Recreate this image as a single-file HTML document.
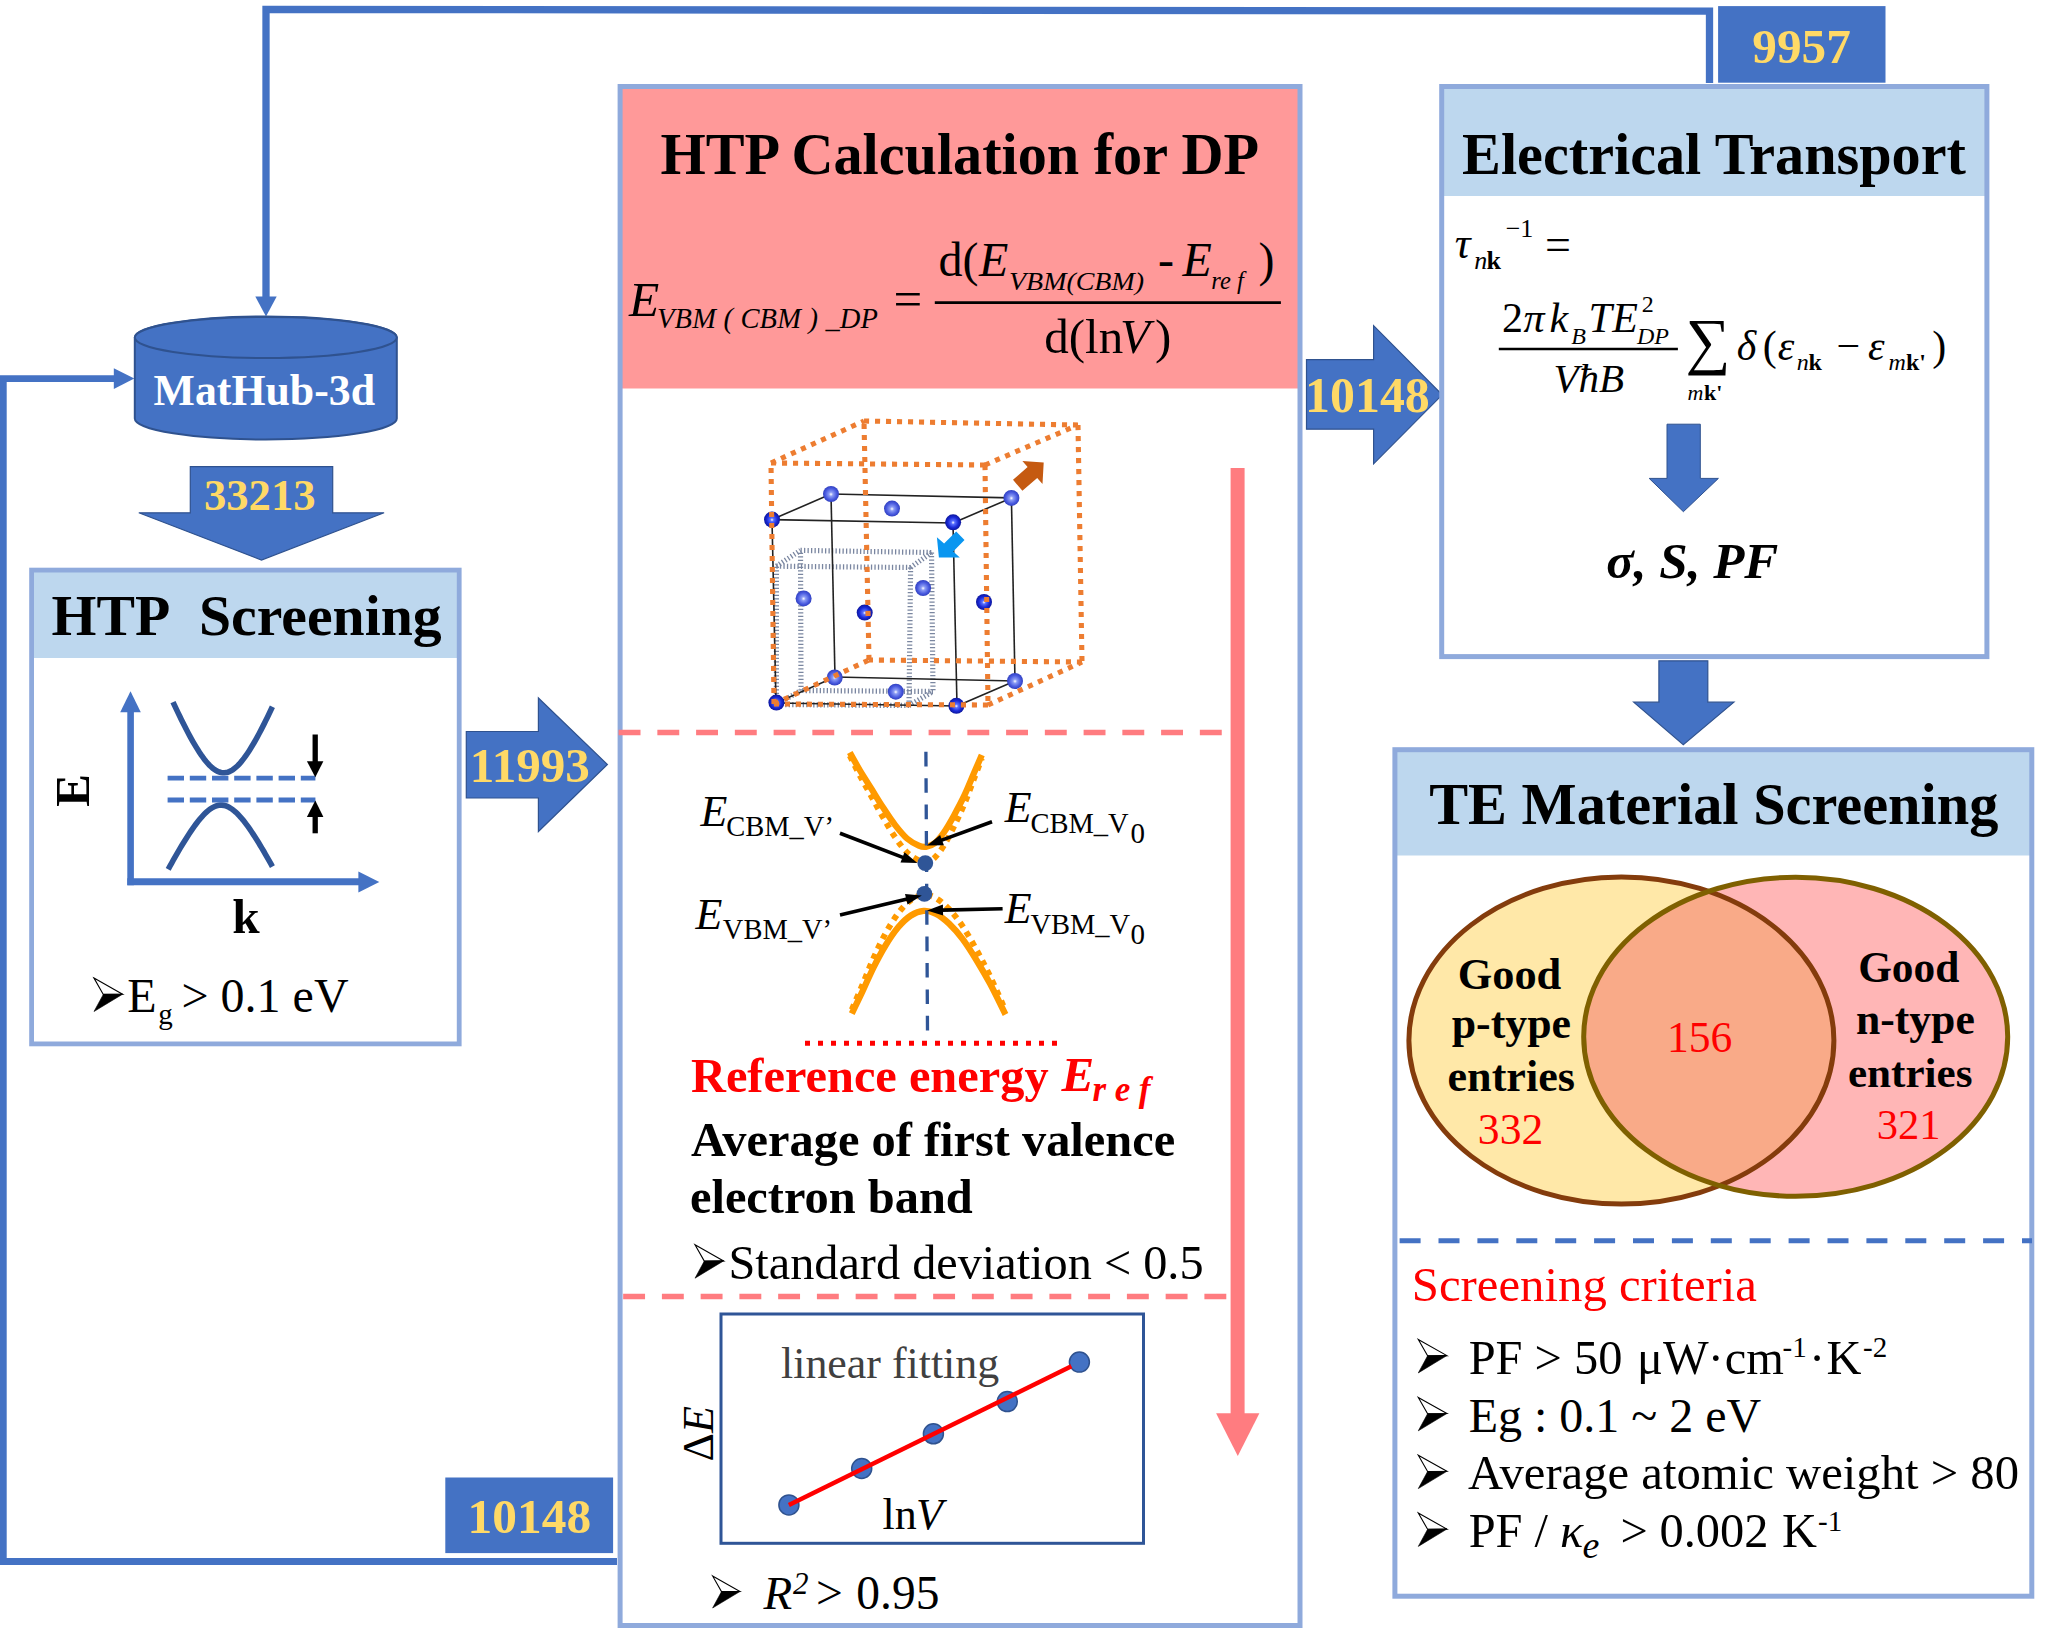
<!DOCTYPE html><html><head><meta charset="utf-8"><style>
html,body{margin:0;padding:0;background:#fff;}
svg{display:block;}
text{font-family:"Liberation Serif",serif;}
</style></head><body>
<svg width="2048" height="1650" viewBox="0 0 2048 1650">
<defs>
<radialGradient id="atomL" cx="0.5" cy="0.5" r="0.5" fx="0.5" fy="0.52">
<stop offset="0" stop-color="#ffffff"/><stop offset="0.25" stop-color="#8c9cf4"/><stop offset="0.7" stop-color="#4a5be0"/><stop offset="1" stop-color="#3040c0"/></radialGradient>
<radialGradient id="atomD" cx="0.5" cy="0.5" r="0.5" fx="0.5" fy="0.52">
<stop offset="0" stop-color="#ffffff"/><stop offset="0.22" stop-color="#5a70ff"/><stop offset="0.65" stop-color="#1a2ad8"/><stop offset="1" stop-color="#0c169c"/></radialGradient>
</defs>
<rect width="2048" height="1650" fill="#fff"/>

<polyline points="266,297 266,9.4 1709.5,11.2 1709.5,83" fill="none" stroke="#4472C4" stroke-width="7.3" stroke-linejoin="miter"/>
<polygon points="255.3,296.4 276.7,296.4 266.0,316.6" fill="#4472C4" stroke="none" stroke-width="0" />
<polyline points="617,1561.5 3.3,1561.5 3.3,378.6 115,378.6" fill="none" stroke="#4472C4" stroke-width="6.8"/>
<polygon points="113.8,368.2 113.8,388.9 134.3,378.5" fill="#4472C4" stroke="none" stroke-width="0" />
<path d="M134.8,337.5 L134.8,418.5 A131,21 0 0 0 396.8,418.5 L396.8,337.5 A131,21 0 0 0 134.8,337.5 Z" fill="#4472C4" stroke="#2F528F" stroke-width="2"/>
<ellipse cx="265.8" cy="337.5" rx="131" ry="20.5" fill="#4472C4" stroke="#2F528F" stroke-width="2"/>
<text x="153.60" y="404.50" font-size="43.80" font-weight="bold" font-style="normal" fill="#fff" >MatHub-3d</text>
<polygon points="190.3,466.6 332.7,466.6 332.7,512.8 384.1,512.8 261.5,560.0 138.8,512.8 190.3,512.8" fill="#4472C4" stroke="#2F528F" stroke-width="1.2" />
<text x="203.91" y="509.70" font-size="44.68" font-weight="bold" font-style="normal" fill="#FFD966" >33213</text>
<rect x="33" y="572" width="424.5" height="86" fill="#BDD7EE"/>
<rect x="31.599999999999998" y="570.1" width="427.6" height="473.7999999999999" fill="none" stroke="#8FAADC" stroke-width="4.8"/>
<text x="51.49" y="635.40" font-size="57.73" font-weight="bold" font-style="normal" fill="#000" >HTP&#160;&#160;Screening</text>
<line x1="130.6" y1="712" x2="130.6" y2="885.3" stroke="#4472C4" stroke-width="6.6" />
<polygon points="120.2,712.3 140.8,712.3 130.5,691.3" fill="#4472C4" stroke="none" stroke-width="0" />
<line x1="127.3" y1="881.8" x2="359" y2="881.8" stroke="#4472C4" stroke-width="7" />
<polygon points="358.4,871.4 358.4,892.4 379.3,881.9" fill="#4472C4" stroke="none" stroke-width="0" />
<path d="M173.00,702.09 L174.66,705.64 L176.31,709.16 L177.97,712.64 L179.63,716.07 L181.28,719.46 L182.94,722.80 L184.60,726.08 L186.25,729.31 L187.91,732.47 L189.57,735.57 L191.22,738.59 L192.88,741.54 L194.54,744.40 L196.19,747.17 L197.85,749.84 L199.51,752.41 L201.16,754.87 L202.82,757.21 L204.48,759.42 L206.13,761.49 L207.79,763.41 L209.45,765.18 L211.10,766.78 L212.76,768.21 L214.42,769.46 L216.07,770.52 L217.73,771.39 L219.39,772.05 L221.04,772.51 L222.70,772.75 L224.36,772.79 L226.01,772.61 L227.67,772.22 L229.33,771.63 L230.98,770.83 L232.64,769.83 L234.30,768.64 L235.95,767.27 L237.61,765.72 L239.27,764.01 L240.92,762.14 L242.58,760.11 L244.24,757.95 L245.89,755.65 L247.55,753.23 L249.21,750.70 L250.86,748.06 L252.52,745.32 L254.18,742.48 L255.83,739.57 L257.49,736.57 L259.15,733.49 L260.80,730.35 L262.46,727.15 L264.12,723.88 L265.77,720.56 L267.43,717.19 L269.09,713.77 L270.74,710.31 L272.40,706.80" fill="none" stroke="#2F5597" stroke-width="5.6"/>
<path d="M168.20,869.29 L169.94,866.15 L171.67,863.03 L173.41,859.94 L175.15,856.89 L176.88,853.87 L178.62,850.89 L180.36,847.94 L182.09,845.05 L183.83,842.20 L185.57,839.40 L187.30,836.66 L189.04,833.99 L190.78,831.38 L192.51,828.84 L194.25,826.39 L195.99,824.02 L197.72,821.75 L199.46,819.58 L201.20,817.52 L202.93,815.59 L204.67,813.79 L206.41,812.13 L208.14,810.62 L209.88,809.28 L211.62,808.11 L213.35,807.12 L215.09,806.32 L216.83,805.71 L218.56,805.31 L220.30,805.12 L222.04,805.13 L223.77,805.36 L225.51,805.78 L227.25,806.42 L228.98,807.24 L230.72,808.26 L232.46,809.45 L234.19,810.82 L235.93,812.35 L237.67,814.03 L239.40,815.85 L241.14,817.80 L242.88,819.87 L244.61,822.05 L246.35,824.34 L248.09,826.72 L249.82,829.18 L251.56,831.73 L253.30,834.35 L255.03,837.03 L256.77,839.78 L258.51,842.58 L260.24,845.44 L261.98,848.34 L263.72,851.29 L265.45,854.28 L267.19,857.30 L268.93,860.36 L270.66,863.45 L272.40,866.58" fill="none" stroke="#2F5597" stroke-width="5.6"/>
<line x1="167.6" y1="778.1" x2="315.4" y2="778.1" stroke="#4472C4" stroke-width="4.9" stroke-dasharray="16.4 5.8"/>
<line x1="167.6" y1="800" x2="315.4" y2="800" stroke="#4472C4" stroke-width="4.9" stroke-dasharray="16.4 5.8"/>
<line x1="315.2" y1="734.5" x2="315.2" y2="762" stroke="#000" stroke-width="5.3" />
<polygon points="306.9,761.2 323.4,761.2 315.3,777.2" fill="#000" stroke="none" stroke-width="0" />
<line x1="315.2" y1="816" x2="315.2" y2="833.3" stroke="#000" stroke-width="5.3" />
<polygon points="306.9,816.9 323.4,816.9 315.3,800.6" fill="#000" stroke="none" stroke-width="0" />
<text x="89.5" y="790.8" font-size="49" font-weight="bold" font-style="normal" fill="#000" transform="rotate(-90 89 790.8)" text-anchor="middle">E</text>
<text x="232.22" y="933.20" font-size="49.31" font-weight="bold" font-style="normal" fill="#000" >k</text>
<polygon points="94.0,978.1 122.6,994.2 103.3,994.4" fill="#fff" stroke="#000" stroke-width="1.10" stroke-linejoin="miter"/>
<polygon points="103.3,994.4 122.6,994.2 94.0,1011.5" fill="#000" stroke="#000" stroke-width="0.60"/>
<text x="127.3" y="1012.3" font-size="48" font-weight="normal" font-style="normal" fill="#000" >E</text>
<text x="158.3" y="1023.5" font-size="29" font-weight="normal" font-style="normal" fill="#000" >g</text>
<text x="181.5" y="1012.3" font-size="48" font-weight="normal" font-style="normal" fill="#000" >&gt; 0.1 eV</text>
<polygon points="466.3,731.5 538.4,731.5 538.4,698.0 607.4,764.5 538.4,831.5 538.4,798.0 466.3,798.0" fill="#4472C4" stroke="#2F528F" stroke-width="1.2" />
<text x="469.81" y="781.50" font-size="49.11" font-weight="bold" font-style="normal" fill="#FFD966" >11993</text>
<rect x="622" y="88.5" width="676" height="300" fill="#FF9999"/>
<rect x="620.1" y="86.5" width="679.9" height="1539" fill="none" stroke="#8FAADC" stroke-width="5"/>
<text x="660.49" y="174.40" font-size="58.19" font-weight="bold" font-style="normal" fill="#000" >HTP Calculation for DP</text>
<text x="629" y="315.5" font-size="49.5" font-weight="normal" font-style="italic" fill="#000" >E</text>
<text x="657" y="328" font-size="28.5" font-weight="normal" font-style="italic" fill="#000" textLength="221" lengthAdjust="spacing">VBM ( CBM ) _DP</text>
<text x="893.5" y="315.5" font-size="51" font-weight="normal" font-style="normal" fill="#000" >=</text>
<line x1="934.8" y1="302.6" x2="1280.9" y2="302.6" stroke="#000" stroke-width="2.8" />
<text x="938.6" y="276.4" font-size="48" font-weight="normal" font-style="normal" fill="#000" >d(</text>
<text x="979" y="276.4" font-size="48" font-weight="normal" font-style="italic" fill="#000" >E</text>
<text x="1009" y="290.3" font-size="24.5" font-weight="normal" font-style="italic" fill="#000" textLength="135" lengthAdjust="spacingAndGlyphs">VBM(CBM)</text>
<text x="1158" y="276.4" font-size="48" font-weight="normal" font-style="normal" fill="#000" >-</text>
<text x="1182.5" y="276.4" font-size="48" font-weight="normal" font-style="italic" fill="#000" >E</text>
<text x="1211.3" y="289.4" font-size="24.5" font-weight="normal" font-style="italic" fill="#000" >re f</text>
<text x="1258.5" y="276.4" font-size="48" font-weight="normal" font-style="normal" fill="#000" >)</text>
<text x="1044.3" y="353.4" font-size="49" font-weight="normal" font-style="normal" fill="#000" >d(ln</text>
<text x="1120" y="353.4" font-size="49" font-weight="normal" font-style="italic" fill="#000" >V</text>
<text x="1155" y="353.4" font-size="49" font-weight="normal" font-style="normal" fill="#000" >)</text>
<line x1="776.4" y1="566.2" x2="910.6" y2="567.5" stroke="#7a86a0" stroke-width="5.2" stroke-dasharray="1.3 2.2"/>
<line x1="800.5" y1="550.4" x2="931.5" y2="552.5" stroke="#7a86a0" stroke-width="5.2" stroke-dasharray="1.3 2.2"/>
<line x1="776.4" y1="566.2" x2="800.5" y2="550.4" stroke="#7a86a0" stroke-width="5.2" stroke-dasharray="1.3 2.2"/>
<line x1="910.6" y1="567.5" x2="909" y2="705.5" stroke="#7a86a0" stroke-width="5.2" stroke-dasharray="1.3 2.2"/>
<line x1="931.5" y1="552.5" x2="933" y2="691.5" stroke="#7a86a0" stroke-width="5.2" stroke-dasharray="1.3 2.2"/>
<line x1="910.6" y1="567.5" x2="931.5" y2="552.5" stroke="#7a86a0" stroke-width="5.2" stroke-dasharray="1.3 2.2"/>
<line x1="909" y1="705.5" x2="776.4" y2="704.5" stroke="#7a86a0" stroke-width="5.2" stroke-dasharray="1.3 2.2"/>
<line x1="933" y1="691.5" x2="801" y2="690.5" stroke="#7a86a0" stroke-width="5.2" stroke-dasharray="1.3 2.2"/>
<line x1="909" y1="705.5" x2="933" y2="691.5" stroke="#7a86a0" stroke-width="5.2" stroke-dasharray="1.3 2.2"/>
<line x1="776.4" y1="704.5" x2="776.4" y2="566.2" stroke="#7a86a0" stroke-width="5.2" stroke-dasharray="1.3 2.2"/>
<line x1="801" y1="690.5" x2="800.5" y2="550.4" stroke="#7a86a0" stroke-width="5.2" stroke-dasharray="1.3 2.2"/>
<line x1="776.4" y1="704.5" x2="801" y2="690.5" stroke="#7a86a0" stroke-width="5.2" stroke-dasharray="1.3 2.2"/>
<line x1="772" y1="519.6" x2="953" y2="523" stroke="#222" stroke-width="1.6" />
<line x1="831" y1="494" x2="1011.4" y2="497.9" stroke="#222" stroke-width="1.6" />
<line x1="772" y1="519.6" x2="831" y2="494" stroke="#222" stroke-width="1.6" />
<line x1="953" y1="523" x2="957" y2="706" stroke="#222" stroke-width="1.6" />
<line x1="1011.4" y1="497.9" x2="1015" y2="681" stroke="#222" stroke-width="1.6" />
<line x1="953" y1="523" x2="1011.4" y2="497.9" stroke="#222" stroke-width="1.6" />
<line x1="957" y1="706" x2="776" y2="703" stroke="#222" stroke-width="1.6" />
<line x1="1015" y1="681" x2="835" y2="677" stroke="#222" stroke-width="1.6" />
<line x1="957" y1="706" x2="1015" y2="681" stroke="#222" stroke-width="1.6" />
<line x1="776" y1="703" x2="772" y2="519.6" stroke="#222" stroke-width="1.6" />
<line x1="835" y1="677" x2="831" y2="494" stroke="#222" stroke-width="1.6" />
<line x1="776" y1="703" x2="835" y2="677" stroke="#222" stroke-width="1.6" />
<polygon points="1043.7,462.5 1042.5,484.1 1037.2,477.9 1022.4,490.8 1013.0,479.8 1027.6,466.9 1022.4,460.9" fill="#C55A11" stroke="none" stroke-width="0" />
<polygon points="938.9,557.4 936.9,537.3 944.1,543.6 956.2,531.4 964.5,540.0 953.2,551.6 959.8,557.4" fill="#0A96F0" stroke="none" stroke-width="0" />
<circle cx="772" cy="519.6" r="8" fill="url(#atomD)"/>
<circle cx="831" cy="494" r="8" fill="url(#atomL)"/>
<circle cx="892" cy="508.6" r="8" fill="url(#atomL)"/>
<circle cx="953.1" cy="522.3" r="8" fill="url(#atomD)"/>
<circle cx="1011.4" cy="497.9" r="8" fill="url(#atomL)"/>
<circle cx="803.6" cy="598.4" r="8" fill="url(#atomL)"/>
<circle cx="864.7" cy="612.6" r="8" fill="url(#atomD)"/>
<circle cx="923.1" cy="588" r="8" fill="url(#atomL)"/>
<circle cx="984" cy="602" r="8" fill="url(#atomD)"/>
<circle cx="834.7" cy="677.5" r="8" fill="url(#atomL)"/>
<circle cx="895.8" cy="691.7" r="8" fill="url(#atomL)"/>
<circle cx="1015" cy="681" r="8" fill="url(#atomL)"/>
<circle cx="776.4" cy="702.6" r="8" fill="url(#atomD)"/>
<circle cx="956.4" cy="705.8" r="8" fill="url(#atomD)"/>
<line x1="771" y1="463" x2="985" y2="465" stroke="#ED7D31" stroke-width="5.1" stroke-dasharray="5.1 5.9"/>
<line x1="864" y1="421" x2="1078" y2="425" stroke="#ED7D31" stroke-width="5.1" stroke-dasharray="5.1 5.9"/>
<line x1="771" y1="463" x2="864" y2="421" stroke="#ED7D31" stroke-width="5.1" stroke-dasharray="5.1 5.9"/>
<line x1="985" y1="465" x2="988" y2="705" stroke="#ED7D31" stroke-width="5.1" stroke-dasharray="5.1 5.9"/>
<line x1="1078" y1="425" x2="1082" y2="662" stroke="#ED7D31" stroke-width="5.1" stroke-dasharray="5.1 5.9"/>
<line x1="985" y1="465" x2="1078" y2="425" stroke="#ED7D31" stroke-width="5.1" stroke-dasharray="5.1 5.9"/>
<line x1="988" y1="705" x2="774" y2="704" stroke="#ED7D31" stroke-width="5.1" stroke-dasharray="5.1 5.9"/>
<line x1="1082" y1="662" x2="869" y2="660" stroke="#ED7D31" stroke-width="5.1" stroke-dasharray="5.1 5.9"/>
<line x1="988" y1="705" x2="1082" y2="662" stroke="#ED7D31" stroke-width="5.1" stroke-dasharray="5.1 5.9"/>
<line x1="774" y1="704" x2="771" y2="463" stroke="#ED7D31" stroke-width="5.1" stroke-dasharray="5.1 5.9"/>
<line x1="869" y1="660" x2="864" y2="421" stroke="#ED7D31" stroke-width="5.1" stroke-dasharray="5.1 5.9"/>
<line x1="774" y1="704" x2="869" y2="660" stroke="#ED7D31" stroke-width="5.1" stroke-dasharray="5.1 5.9"/>
<line x1="618.6" y1="732.5" x2="1222" y2="732.5" stroke="#FF7C80" stroke-width="5.6" stroke-dasharray="21.9 16.85"/>
<line x1="623.15" y1="1296.5" x2="1227" y2="1296.5" stroke="#FF7C80" stroke-width="5.6" stroke-dasharray="21.9 16.85"/>
<line x1="1237.6" y1="468" x2="1237.6" y2="1414" stroke="#FF7C80" stroke-width="14" />
<polygon points="1216.1,1413.2 1259.4,1413.2 1237.8,1455.9" fill="#FF7C80" stroke="none" stroke-width="0" />
<path d="M849.8,755.6 C851.4,758.8 856.1,768.4 859.7,775.2 C863.3,782.0 867.6,789.4 871.5,796.5 C875.4,803.6 879.3,811.0 883.3,817.8 C887.2,824.6 891.2,831.6 895.2,837.3 C899.2,843.1 903.1,848.6 907.0,852.4 C910.9,856.3 915.6,858.9 918.8,860.4 C921.9,862.0 923.3,862.3 925.9,861.8 C928.5,861.3 931.6,860.5 934.6,857.7 C937.6,855.0 940.7,850.7 944.0,845.3 C947.3,840.0 950.9,832.8 954.3,825.8 C957.7,818.9 961.2,811.5 964.5,803.6 C967.8,795.8 971.1,786.2 974.0,778.7 C976.9,771.1 980.5,761.7 981.8,758.3" fill="none" stroke="#FF9A00" stroke-width="6" stroke-dasharray="5.5 5.5"/>
<path d="M851.8,1009.6 C853.6,1005.3 859.1,992.8 862.7,984.2 C866.3,975.6 869.8,966.3 873.6,957.9 C877.4,949.4 881.4,941.0 885.5,933.5 C889.6,926.1 894.0,918.8 898.2,913.2 C902.4,907.6 906.7,903.1 910.9,900.0 C915.1,897.0 919.5,895.3 923.6,894.9 C927.7,894.5 931.2,895.6 935.5,897.9 C939.8,900.3 944.6,904.3 949.1,909.1 C953.6,913.8 958.2,919.6 962.7,926.4 C967.2,933.2 971.9,941.4 976.4,949.7 C980.9,958.0 985.1,965.9 990.0,976.1 C994.9,986.2 1002.9,1004.8 1005.5,1010.6" fill="none" stroke="#FF9A00" stroke-width="6" stroke-dasharray="5.5 5.5"/>
<path d="M849.8,752.6 C851.4,755.5 856.1,764.0 859.7,770.0 C863.3,776.0 867.6,782.6 871.5,788.9 C875.4,795.2 879.3,801.8 883.3,807.8 C887.2,813.8 891.2,820.0 895.2,825.1 C899.2,830.2 903.1,835.1 907.0,838.5 C910.9,841.9 915.6,844.2 918.8,845.6 C921.9,847.0 923.3,847.2 925.9,846.8 C928.5,846.4 931.6,845.6 934.6,843.2 C937.6,840.8 940.7,836.9 944.0,832.2 C947.3,827.5 950.9,821.1 954.3,814.9 C957.7,808.7 961.2,802.2 964.5,795.2 C967.8,788.2 971.1,779.8 974.0,773.1 C976.9,766.4 980.5,758.0 981.8,755.0" fill="none" stroke="#FF9A00" stroke-width="6.3"/>
<path d="M851.8,1013.6 C853.6,1009.8 859.1,998.6 862.7,990.9 C866.3,983.2 869.8,974.9 873.6,967.3 C877.4,959.7 881.4,952.2 885.5,945.5 C889.6,938.8 894.0,932.3 898.2,927.3 C902.4,922.3 906.7,918.2 910.9,915.5 C915.1,912.8 919.5,911.2 923.6,910.9 C927.7,910.6 931.2,911.5 935.5,913.6 C939.8,915.7 944.6,919.4 949.1,923.6 C953.6,927.9 958.2,933.0 962.7,939.1 C967.2,945.2 971.9,952.6 976.4,960.0 C980.9,967.4 985.1,974.5 990.0,983.6 C994.9,992.7 1002.9,1009.4 1005.5,1014.5" fill="none" stroke="#FF9A00" stroke-width="6.3"/>
<line x1="925.9" y1="751.8" x2="927.5" y2="1031" stroke="#2F5597" stroke-width="3.3" stroke-dasharray="14.6 11.8"/>
<circle cx="925.3" cy="863.1" r="7.9" fill="#2F5597"/>
<circle cx="924.4" cy="893.8" r="7.9" fill="#2F5597"/>
<line x1="840" y1="833.2" x2="903.4077517565374" y2="857.694725807758" stroke="#000" stroke-width="3.6" />
<polygon points="917.4,863.1 900.5,862.5 904.5,852.2" fill="#000" stroke="none" stroke-width="0" />
<line x1="992" y1="821.8" x2="941.0924649905704" y2="840.3616704572843" stroke="#000" stroke-width="3.6" />
<polygon points="927.0,845.5 940.1,834.9 943.9,845.2" fill="#000" stroke="none" stroke-width="0" />
<line x1="840" y1="915" x2="907.2048493637374" y2="899.0614415934413" stroke="#000" stroke-width="3.6" />
<polygon points="921.8,895.6 907.5,904.6 905.0,893.9" fill="#000" stroke="none" stroke-width="0" />
<line x1="1002.6" y1="908.8" x2="941.9962090256066" y2="910.1627836594771" stroke="#000" stroke-width="3.6" />
<polygon points="927.0,910.5 942.9,904.6 943.1,915.6" fill="#000" stroke="none" stroke-width="0" />
<text x="700.6" y="826" font-size="44" font-weight="normal" font-style="italic" fill="#000" >E</text>
<text x="726.2" y="836.2" font-size="28.5" font-weight="normal" font-style="normal" fill="#000" >CBM_V’</text>
<text x="1004.7" y="821.8" font-size="44" font-weight="normal" font-style="italic" fill="#000" >E</text>
<text x="1030.4" y="832.8" font-size="28.5" font-weight="normal" font-style="normal" fill="#000" >CBM_V</text>
<text x="1130.5" y="843" font-size="29" font-weight="normal" font-style="normal" fill="#000" >0</text>
<text x="695.4" y="928.5" font-size="44" font-weight="normal" font-style="italic" fill="#000" >E</text>
<text x="722.8" y="938.7" font-size="28.5" font-weight="normal" font-style="normal" fill="#000" >VBM_V’</text>
<text x="1004.7" y="923.3" font-size="44" font-weight="normal" font-style="italic" fill="#000" >E</text>
<text x="1030.4" y="933.6" font-size="28.5" font-weight="normal" font-style="normal" fill="#000" >VBM_V</text>
<text x="1130.5" y="943.9" font-size="29" font-weight="normal" font-style="normal" fill="#000" >0</text>
<line x1="805" y1="1043.2" x2="1065" y2="1043.2" stroke="#FF0000" stroke-width="5" stroke-dasharray="5 8"/>
<text x="690.99" y="1091.50" font-size="48.37" font-weight="bold" font-style="normal" fill="#FF0000" >Reference energy</text>
<text x="1061.5" y="1091.3" font-size="49" font-weight="bold" font-style="italic" fill="#FF0000" >E</text>
<text x="1092.5" y="1100.8" font-size="35" font-weight="bold" font-style="italic" fill="#FF0000" textLength="58" lengthAdjust="spacing">ref</text>
<text x="691.00" y="1156.00" font-size="48.40" font-weight="bold" font-style="normal" fill="#000" >Average of first valence</text>
<text x="689.97" y="1213.00" font-size="48.40" font-weight="bold" font-style="normal" fill="#000" >electron band</text>
<polygon points="695.0,1244.8 723.6,1260.9 704.3,1261.1" fill="#fff" stroke="#000" stroke-width="1.10" stroke-linejoin="miter"/>
<polygon points="704.3,1261.1 723.6,1260.9 695.0,1278.2" fill="#000" stroke="#000" stroke-width="0.60"/>
<text x="728.46" y="1279.00" font-size="48.29" font-weight="normal" font-style="normal" fill="#000" >Standard deviation &lt; 0.5</text>
<rect x="721" y="1314" width="422.5" height="229.3" fill="none" stroke="#2F5597" stroke-width="3"/>
<circle cx="788.9" cy="1504.9" r="10" fill="#4472C4" stroke="#2F528F" stroke-width="1.5"/>
<circle cx="861.7" cy="1468.5" r="10" fill="#4472C4" stroke="#2F528F" stroke-width="1.5"/>
<circle cx="933.4" cy="1433.8" r="10" fill="#4472C4" stroke="#2F528F" stroke-width="1.5"/>
<circle cx="1007.3" cy="1401.6" r="10" fill="#4472C4" stroke="#2F528F" stroke-width="1.5"/>
<circle cx="1079.4" cy="1362.1" r="10" fill="#4472C4" stroke="#2F528F" stroke-width="1.5"/>
<line x1="788.9" y1="1504.9" x2="1071.4" y2="1366.3" stroke="#FF0000" stroke-width="4.5" />
<text x="780.99" y="1378.40" font-size="43.92" font-weight="normal" font-style="normal" fill="#404040" >linear fitting</text>
<text x="882.5" y="1528.5" font-size="44" font-weight="normal" font-style="normal" fill="#000" >ln</text>
<text x="916" y="1528.5" font-size="44" font-weight="normal" font-style="italic" fill="#000" >V</text>
<text transform="translate(712.6,1433.8) rotate(-90)" text-anchor="middle" font-size="44">Δ<tspan font-style="italic">E</tspan></text>
<polygon points="712.6,1576.0 740.0,1591.5 721.5,1591.6" fill="#fff" stroke="#000" stroke-width="1.05" stroke-linejoin="miter"/>
<polygon points="721.5,1591.6 740.0,1591.5 712.6,1608.0" fill="#000" stroke="#000" stroke-width="0.57"/>
<text x="763.5" y="1608.8" font-size="47" font-weight="normal" font-style="italic" fill="#000" >R</text>
<text x="793" y="1594.3" font-size="31" font-weight="normal" font-style="italic" fill="#000" >2</text>
<text x="816" y="1608.8" font-size="47.5" font-weight="normal" font-style="normal" fill="#000" >&gt;</text>
<text x="856.3" y="1608.8" font-size="47.5" font-weight="normal" font-style="normal" fill="#000" >0.95</text>
<rect x="445.3" y="1477.5" width="167.8" height="75.6" fill="#4472C4"/>
<text x="467.57" y="1533.10" font-size="49.42" font-weight="bold" font-style="normal" fill="#FFD966" >10148</text>
<polygon points="1306.5,359.6 1373.6,359.6 1373.6,325.7 1442.2,394.8 1373.6,463.8 1373.6,429.2 1306.5,429.2" fill="#4472C4" stroke="#2F528F" stroke-width="1.2" />
<text x="1305.10" y="412.20" font-size="49.89" font-weight="bold" font-style="normal" fill="#FFD966" >10148</text>
<rect x="1718.1" y="6.1" width="167.4" height="76.6" fill="#4472C4"/>
<text x="1752.35" y="63.40" font-size="49.25" font-weight="bold" font-style="normal" fill="#FFD966" >9957</text>
<rect x="1443" y="88" width="543" height="108" fill="#BDD7EE"/>
<rect x="1441.7" y="86.5" width="545.2" height="570.1" fill="none" stroke="#8FAADC" stroke-width="5"/>
<text x="1462.10" y="173.50" font-size="58.21" font-weight="bold" font-style="normal" fill="#000" >Electrical Transport</text>
<text x="1454.8" y="257.8" font-size="44" font-weight="normal" font-style="italic" fill="#000" >τ</text>
<text x="1474.2" y="269.2" font-size="26" font-weight="normal" font-style="italic" fill="#000" >n</text>
<text x="1486.5" y="269.2" font-size="26" font-weight="bold" font-style="normal" fill="#000" >k</text>
<text x="1505.7" y="237.2" font-size="26" font-weight="normal" font-style="normal" fill="#000" >−1</text>
<text x="1545" y="260" font-size="46" font-weight="normal" font-style="normal" fill="#000" >=</text>
<text x="1502" y="332.4" font-size="42" font-weight="normal" font-style="normal" fill="#000" >2</text>
<text x="1523.4" y="332.4" font-size="42" font-weight="normal" font-style="italic" fill="#000" >π</text>
<text x="1549.4" y="332.4" font-size="42" font-weight="normal" font-style="italic" fill="#000" >k</text>
<text x="1571.3" y="343.6" font-size="24" font-weight="normal" font-style="italic" fill="#000" >B</text>
<text x="1588.6" y="332.4" font-size="42" font-weight="normal" font-style="italic" fill="#000" >T</text>
<text x="1612.3" y="332.4" font-size="42" font-weight="normal" font-style="italic" fill="#000" >E</text>
<text x="1641.8" y="312.3" font-size="24" font-weight="normal" font-style="normal" fill="#000" >2</text>
<text x="1636.9" y="343.6" font-size="24" font-weight="normal" font-style="italic" fill="#000" >DP</text>
<line x1="1498.8" y1="349" x2="1677.9" y2="349" stroke="#000" stroke-width="2.5" />
<text x="1553.5" y="391.6" font-size="41" font-weight="normal" font-style="italic" fill="#000" >VħB</text>
<text x="1685.5" y="362" font-size="63" font-weight="normal" font-style="normal" fill="#000" >∑</text>
<text x="1687.5" y="399.6" font-size="22" font-weight="normal" font-style="italic" fill="#000" >m</text>
<text x="1704" y="399.6" font-size="22" font-weight="bold" font-style="normal" fill="#000" >k'</text>
<text x="1736.7" y="360" font-size="42" font-weight="normal" font-style="italic" fill="#000" >δ</text>
<text x="1762.7" y="360" font-size="42" font-weight="normal" font-style="normal" fill="#000" >(</text>
<text x="1777.7" y="360" font-size="42" font-weight="normal" font-style="italic" fill="#000" >ε</text>
<text x="1796.8" y="370" font-size="24" font-weight="normal" font-style="italic" fill="#000" >n</text>
<text x="1808.5" y="370" font-size="24" font-weight="bold" font-style="normal" fill="#000" >k</text>
<text x="1836.5" y="360" font-size="42" font-weight="normal" font-style="normal" fill="#000" >−</text>
<text x="1868" y="360" font-size="42" font-weight="normal" font-style="italic" fill="#000" >ε</text>
<text x="1888.5" y="370" font-size="24" font-weight="normal" font-style="italic" fill="#000" >m</text>
<text x="1906" y="370" font-size="24" font-weight="bold" font-style="normal" fill="#000" >k'</text>
<text x="1932.2" y="360" font-size="42" font-weight="normal" font-style="normal" fill="#000" >)</text>
<polygon points="1667.0,424.2 1700.3,424.2 1700.3,478.4 1718.4,478.4 1683.4,511.7 1649.2,478.4 1667.0,478.4" fill="#4472C4" stroke="#2F528F" stroke-width="1" />
<text x="1606.29" y="577.90" font-size="51.02" font-weight="bold" font-style="italic" fill="#000" >σ, S, PF</text>
<polygon points="1658.9,660.8 1707.8,660.8 1707.8,702.2 1733.9,702.2 1683.3,744.6 1633.7,702.2 1658.9,702.2" fill="#4472C4" stroke="#2F528F" stroke-width="1.2" />
<rect x="1396" y="751" width="635" height="104.5" fill="#BDD7EE"/>
<rect x="1394.9" y="749.7" width="636.8999999999999" height="846.5" fill="none" stroke="#8FAADC" stroke-width="5"/>
<text x="1429.20" y="823.80" font-size="58.34" font-weight="bold" font-style="normal" fill="#000" >TE Material Screening</text>
<defs><clipPath id="cl"><ellipse cx="1621.4" cy="1040.5" rx="212.5" ry="163.5"/></clipPath></defs>
<ellipse cx="1621.4" cy="1040.5" rx="212.5" ry="163.5" fill="#FFE8A8"/>
<ellipse cx="1795.7" cy="1036.8" rx="212" ry="159.5" fill="#FFB6B6"/>
<ellipse cx="1795.7" cy="1036.8" rx="212" ry="159.5" fill="#F9AA88" clip-path="url(#cl)"/>
<ellipse cx="1621.4" cy="1040.5" rx="212.5" ry="163.5" fill="none" stroke="#843C0C" stroke-width="5"/>
<ellipse cx="1795.7" cy="1036.8" rx="212" ry="159.5" fill="none" stroke="#7F6000" stroke-width="5"/>
<text x="1457.70" y="988.50" font-size="44.38" font-weight="bold" font-style="normal" fill="#000" >Good</text>
<text x="1451.77" y="1038.30" font-size="43.81" font-weight="bold" font-style="normal" fill="#000" >p-type</text>
<text x="1447.55" y="1091.40" font-size="44.11" font-weight="bold" font-style="normal" fill="#000" >entries</text>
<text x="1477.86" y="1144.40" font-size="43.56" font-weight="normal" font-style="normal" fill="#FF0000" >332</text>
<text x="1858.13" y="981.50" font-size="43.33" font-weight="bold" font-style="normal" fill="#000" >Good</text>
<text x="1855.95" y="1033.50" font-size="43.67" font-weight="bold" font-style="normal" fill="#000" >n-type</text>
<text x="1847.97" y="1086.50" font-size="43.12" font-weight="bold" font-style="normal" fill="#000" >entries</text>
<text x="1876.68" y="1138.90" font-size="42.59" font-weight="normal" font-style="normal" fill="#FF0000" >321</text>
<text x="1667.01" y="1052.20" font-size="43.56" font-weight="normal" font-style="normal" fill="#FF0000" >156</text>
<line x1="1399.6" y1="1240.8" x2="2032" y2="1240.8" stroke="#4472C4" stroke-width="5" stroke-dasharray="21 17.9"/>
<text x="1411.83" y="1301.40" font-size="48.76" font-weight="normal" font-style="normal" fill="#FF0000" >Screening criteria</text>
<polygon points="1418.3,1339.5 1446.9,1355.6 1427.6,1355.8" fill="#fff" stroke="#000" stroke-width="1.10" stroke-linejoin="miter"/>
<polygon points="1427.6,1355.8 1446.9,1355.6 1418.3,1372.9" fill="#000" stroke="#000" stroke-width="0.60"/>
<polygon points="1418.3,1397.4 1446.9,1413.5 1427.6,1413.7" fill="#fff" stroke="#000" stroke-width="1.10" stroke-linejoin="miter"/>
<polygon points="1427.6,1413.7 1446.9,1413.5 1418.3,1430.8" fill="#000" stroke="#000" stroke-width="0.60"/>
<polygon points="1418.3,1455.2 1446.9,1471.3 1427.6,1471.5" fill="#fff" stroke="#000" stroke-width="1.10" stroke-linejoin="miter"/>
<polygon points="1427.6,1471.5 1446.9,1471.3 1418.3,1488.6" fill="#000" stroke="#000" stroke-width="0.60"/>
<polygon points="1418.3,1513.0 1446.9,1529.1 1427.6,1529.3" fill="#fff" stroke="#000" stroke-width="1.10" stroke-linejoin="miter"/>
<polygon points="1427.6,1529.3 1446.9,1529.1 1418.3,1546.4" fill="#000" stroke="#000" stroke-width="0.60"/>
<text x="1468.7" y="1373.7" font-size="48.4" font-weight="normal" font-style="normal" fill="#000" >PF &gt; 50</text>
<text x="1637" y="1373.7" font-size="48.4" font-weight="normal" font-style="normal" fill="#000" >μW</text>
<text x="1707.7" y="1373.7" font-size="48.4" font-weight="normal" font-style="normal" fill="#000" >·</text>
<text x="1724.8" y="1373.7" font-size="48.4" font-weight="normal" font-style="normal" fill="#000" >cm</text>
<text x="1782.5" y="1356.9" font-size="29" font-weight="normal" font-style="normal" fill="#000" >-1</text>
<text x="1809" y="1373.7" font-size="48.4" font-weight="normal" font-style="normal" fill="#000" >·</text>
<text x="1826.5" y="1373.7" font-size="48.4" font-weight="normal" font-style="normal" fill="#000" >K</text>
<text x="1863" y="1356.9" font-size="29" font-weight="normal" font-style="normal" fill="#000" >-2</text>
<text x="1468.7" y="1431.6" font-size="48" font-weight="normal" font-style="normal" fill="#000" >Eg : 0.1 ~ 2 eV</text>
<text x="1467.90" y="1489.40" font-size="48.70" font-weight="normal" font-style="normal" fill="#000" >Average atomic weight &gt; 80</text>
<text x="1468.7" y="1547.2" font-size="48.4" font-weight="normal" font-style="normal" fill="#000" >PF /</text>
<text x="1560" y="1547.2" font-size="48.4" font-weight="normal" font-style="italic" fill="#000" >κ</text>
<text x="1582.5" y="1557.5" font-size="38" font-weight="normal" font-style="italic" fill="#000" >e</text>
<text x="1620.5" y="1547.2" font-size="48.4" font-weight="normal" font-style="normal" fill="#000" >&gt;</text>
<text x="1659.5" y="1547.2" font-size="48.4" font-weight="normal" font-style="normal" fill="#000" >0.002</text>
<text x="1782" y="1547.2" font-size="48.4" font-weight="normal" font-style="normal" fill="#000" >K</text>
<text x="1818" y="1530.5" font-size="29" font-weight="normal" font-style="normal" fill="#000" >-1</text>
</svg></body></html>
